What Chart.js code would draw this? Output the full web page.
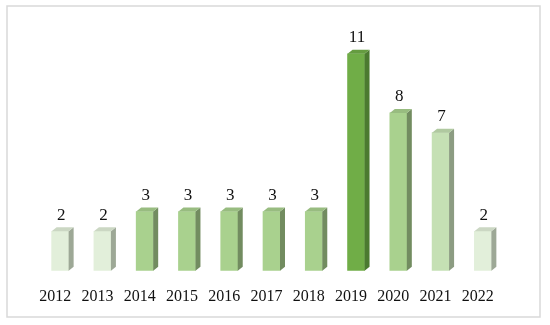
<!DOCTYPE html>
<html>
<head>
<meta charset="utf-8">
<script src="https://cdn.jsdelivr.net/npm/chart.js@4/dist/chart.umd.min.js"></script>
<style>
  html, body { margin: 0; padding: 0; background: #ffffff; }
  #wrap { width: 550px; height: 325px; position: relative; }
</style>
</head>
<body>
<div id="wrap"><canvas id="c" width="550" height="325"></canvas></div>
<script>
const years = ['2012','2013','2014','2015','2016','2017','2018','2019','2020','2021','2022'];
const counts = [2, 2, 3, 3, 3, 3, 3, 11, 8, 7, 2];
const shades = ['light','light','mid','mid','mid','mid','mid','dark','mid','pale','light'];

const palette = {
  light: { front: '#E2EFDA', side: '#9DA896', top: '#CBD7C3' },
  pale:  { front: '#C5E0B4', side: '#8C9C82', top: '#B0C9A0' },
  mid:   { front: '#A9D18E', side: '#728C60', top: '#98BC80' },
  dark:  { front: '#70AD47', side: '#4B7A30', top: '#659C40' }
};

const DX = 5, DY = 4;

const frame = {
  id: 'frame',
  beforeDraw(chart) {
    const ctx = chart.ctx;
    ctx.save();
    ctx.fillStyle = '#ffffff';
    ctx.fillRect(0, 0, chart.width, chart.height);
    ctx.strokeStyle = '#D9D9D9';
    ctx.lineWidth = 1.5;
    ctx.strokeRect(7, 6, 533, 311);
    ctx.restore();
  }
};

const bars3d = {
  id: 'bars3d',
  afterDatasetsDraw(chart) {
    const ctx = chart.ctx;
    const meta = chart.getDatasetMeta(0);
    ctx.save();
    meta.data.forEach((bar, i) => {
      const p = bar.getProps(['x','y','base','width'], true);
      const l = p.x - p.width / 2, r = p.x + p.width / 2;
      const c = palette[shades[i]];
      ctx.fillStyle = c.side;
      ctx.beginPath();
      ctx.moveTo(r, p.y);
      ctx.lineTo(r + DX, p.y - DY);
      ctx.lineTo(r + DX, p.base - DY);
      ctx.lineTo(r, p.base);
      ctx.closePath();
      ctx.fill();
      ctx.fillStyle = c.top;
      ctx.beginPath();
      ctx.moveTo(l, p.y);
      ctx.lineTo(l + DX, p.y - DY);
      ctx.lineTo(r + DX, p.y - DY);
      ctx.lineTo(r, p.y);
      ctx.closePath();
      ctx.fill();
      ctx.fillStyle = '#111111';
      ctx.font = '17px "Liberation Serif", "DejaVu Serif", serif';
      ctx.textAlign = 'center';
      ctx.textBaseline = 'middle';
      ctx.fillText(String(counts[i]), p.x + 1, p.y - DY - 12);
    });
    ctx.restore();
  }
};

new Chart(document.getElementById('c'), {
  type: 'bar',
  data: {
    labels: years,
    datasets: [{
      data: counts,
      backgroundColor: shades.map(s => palette[s].front),
      borderWidth: 0,
      barThickness: 17
    }]
  },
  options: {
    responsive: false,
    animation: false,
    events: [],
    layout: { padding: { left: 39, right: 46, top: 34, bottom: 3 } },
    plugins: { legend: { display: false }, tooltip: { enabled: false } },
    scales: {
      x: {
        grid: { display: false, drawTicks: false },
        border: { display: false },
        ticks: {
          color: '#111111',
          padding: 16,
          labelOffset: -5,
          font: { family: '"Liberation Serif", "DejaVu Serif", serif', size: 16 },
          maxRotation: 0,
          autoSkip: false
        }
      },
      y: { display: false, min: 0, max: 12 }
    }
  },
  plugins: [frame, bars3d]
});
</script>
</body>
</html>
